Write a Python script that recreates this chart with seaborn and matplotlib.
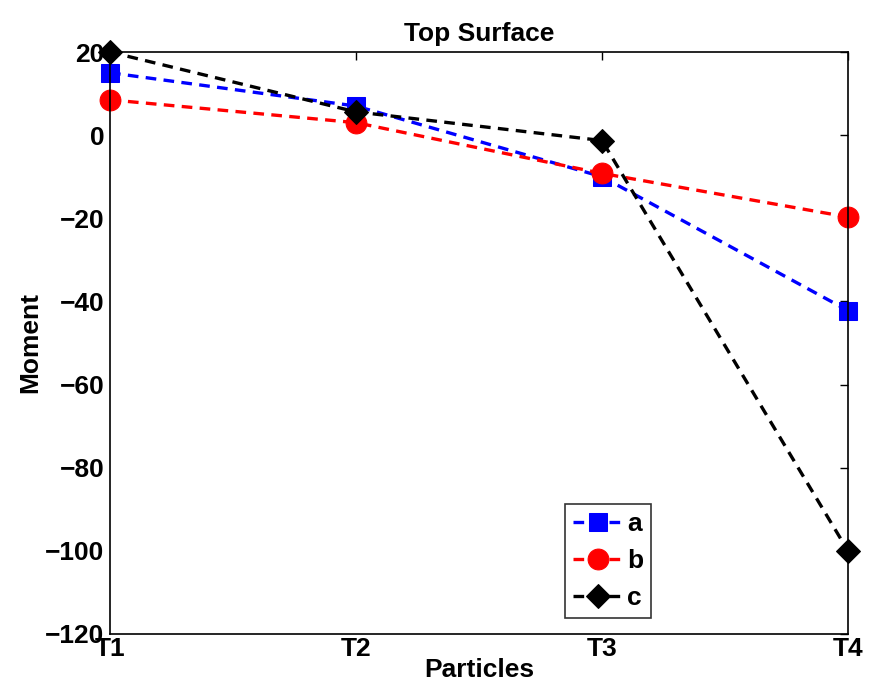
import matplotlib
matplotlib.use("Agg")
import matplotlib.pyplot as plt
import seaborn as sns
import pandas as pd

# Moment per particle for each case
particles = ["T1", "T2", "T3", "T4"]
series_a = [15, 7, -10, -42.2]
series_b = [8.5, 3, -9.2, -19.7]
series_c = [20, 5.6, -1.3, -100]

sns.set_theme(style="white")
plt.rcParams["font.family"] = ["Liberation Sans", "DejaVu Sans"]
plt.rcParams["font.weight"] = "bold"
plt.rcParams["text.color"] = "black"
plt.rcParams["axes.labelcolor"] = "black"
plt.rcParams["xtick.color"] = "black"
plt.rcParams["ytick.color"] = "black"

fig = plt.figure(figsize=(8.69, 6.99), dpi=100)
ax = fig.add_axes([0.1266, 0.0930, 0.8492, 0.8326])

xpos = list(range(len(particles)))
styles = [
    ("a", series_a, "#0000ff", "s", 12.5),
    ("b", series_b, "#ff0000", "o", 15),
    ("c", series_c, "#000000", "D", 12),
]
for name, vals, color, marker, ms in styles:
    df = pd.DataFrame({"x": xpos, "y": vals})
    sns.lineplot(data=df, x="x", y="y", ax=ax, color=color, marker=marker,
                 markersize=ms, markeredgecolor=color, linestyle=(0, (3.2, 2.2)),
                 linewidth=2.4, label=name, clip_on=False)

ax.set_xlim(0, 3)
ax.set_ylim(-120, 20)
ax.set_xticks(xpos)
ax.set_xticklabels(particles)
ax.set_yticks(range(-120, 21, 20))

fs = 19
ax.tick_params(direction="in", length=6, width=1, top=True, right=True,
               labelsize=fs, pad=4, colors="black")
for lab in ax.get_xticklabels() + ax.get_yticklabels():
    lab.set_fontweight("bold")
    lab.set_color("black")
ax.tick_params(axis="x", pad=2)
for sp in ax.spines.values():
    sp.set_color("black")
    sp.set_linewidth(1.2)

ax.set_title("Top Surface", fontsize=fs, fontweight="bold", pad=8, color="black")
ax.set_xlabel("Particles", fontsize=fs, fontweight="bold", labelpad=-2, color="black")
ax.set_ylabel("Moment", fontsize=fs, fontweight="bold", labelpad=2, color="black")

leg = ax.legend(loc="lower left", bbox_to_anchor=(0.617, 0.027), borderaxespad=0,
                fontsize=fs, frameon=True, fancybox=False, handlelength=1.9,
                handletextpad=0.15, labelspacing=0.5, borderpad=0.3,
                markerscale=1.0)
leg.get_frame().set_edgecolor("black")
leg.get_frame().set_linewidth(1.2)
for t in leg.get_texts():
    t.set_fontweight("bold")
    t.set_color("black")

fig.savefig("out.png", dpi=100)
